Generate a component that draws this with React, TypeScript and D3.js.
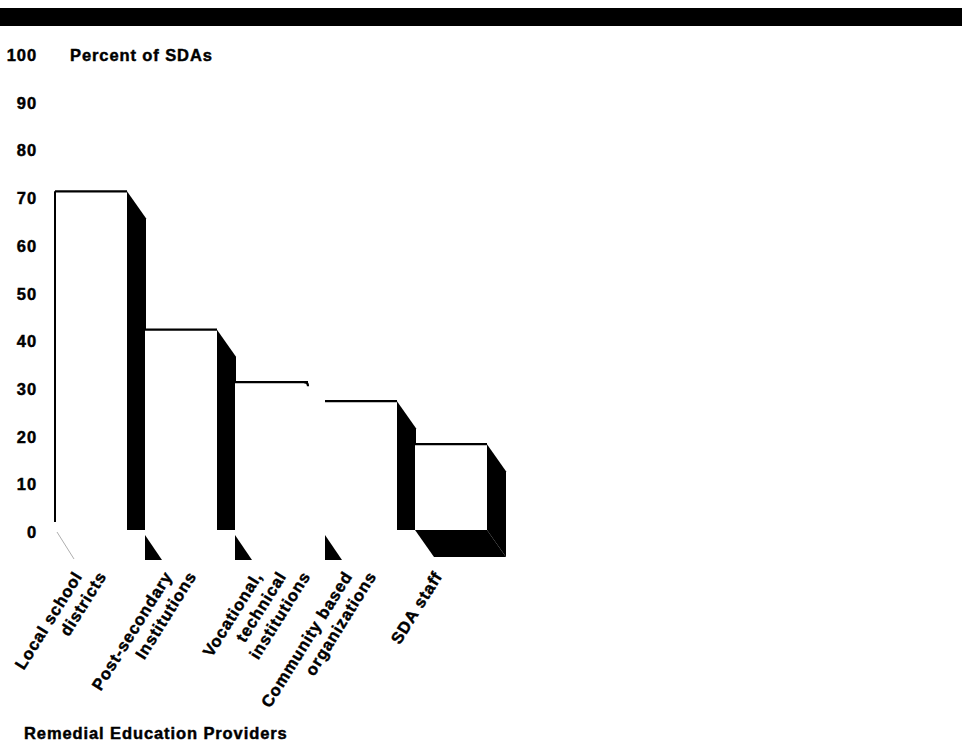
import React from "react";
import * as d3 from "d3";

// Share of SDAs using each remedial education provider
const providers = [
  "Local school districts",
  "Post-secondary institutions",
  "Vocational, technical institutions",
  "Community based organizations",
  "SDA staff",
];
const providerLabelLines = [
  ["Local school", "districts"],
  ["Post-secondary", "Institutions"],
  ["Vocational,", "technical", "institutions"],
  ["Community based", "organizations"],
  ["SDA staff"],
];
const percentOfSDAs = [71, 42, 31, 27, 18];
const yTicks = [0, 10, 20, 30, 40, 50, 60, 70, 80, 90, 100];

const W = 962;
const H = 752;
const FONT = "'Liberation Sans', Arial, Helvetica, sans-serif";

export default function App() {
  const x = d3
    .scaleBand<string>()
    .domain(providers)
    .range([55, 487])
    .paddingInner(0.2)
    .paddingOuter(0);
  const y = d3.scaleLinear().domain([0, 100]).range([530, 53]);
  const base = y(0);
  const bw = x.bandwidth();
  // depth offset of the 3-D extrusion (down and to the right)
  const dx = 19;
  const dy = 27;

  const textStyle = {
    fontFamily: FONT,
    fontWeight: 700,
    fontSize: 16.5,
    letterSpacing: 0.9,
    fill: "#000",
    stroke: "#000",
    strokeWidth: 0.45,
  } as React.CSSProperties;

  return (
    <svg
      width={W}
      height={H}
      viewBox={`0 0 ${W} ${H}`}
      style={{ position: "absolute", left: 0, top: 0, background: "#fff" }}
    >
      <rect x={0} y={0} width={W} height={H} fill="#fff" />
      {/* heavy rule across the top */}
      <rect x={0} y={8} width={W} height={18} fill="#000" />

      {/* y tick labels */}
      {yTicks.map((t) => (
        <text
          key={t}
          x={37}
          y={y(t) + 8}
          textAnchor="end"
          style={textStyle}
        >
          {t}
        </text>
      ))}
      <text x={70} y={y(100) + 8} style={textStyle}>
        Percent of SDAs
      </text>

      {/* bars */}
      {providers.map((p, i) => {
        const x0 = x(p) as number;
        const x1 = x0 + bw;
        const top = y(percentOfSDAs[i]);
        const isLast = i === providers.length - 1;
        const hasSide = i !== 2;
        const sideBottom = isLast ? base + dy : base;
        const side = d3.path();
        side.moveTo(x1, top);
        side.lineTo(x1 + dx, top + dy);
        side.lineTo(x1 + dx, sideBottom);
        side.lineTo(x1, base);
        side.closePath();
        return (
          <g key={p}>
            <rect x={x0} y={top} width={bw} height={base - top} fill="#fff" />
            {hasSide && <path d={side.toString()} fill="#000" />}
            {/* top edge */}
            <line
              x1={x0}
              x2={hasSide ? x1 : x1 + 1}
              y1={top}
              y2={top}
              stroke="#000"
              strokeWidth={2.2}
            />
            {!hasSide && (
              <path
                d={`M${x1 - 3},${top} Q${x1 + 1},${top} ${x1 + 1},${top + 4}`}
                fill="none"
                stroke="#000"
                strokeWidth={2.2}
              />
            )}
            {i === 0 && (
              <>
                <line
                  x1={x0}
                  x2={x0}
                  y1={top}
                  y2={base - 8}
                  stroke="#000"
                  strokeWidth={2}
                />
                <line
                  x1={x0 + 2}
                  x2={x0 + dx}
                  y1={base + 2}
                  y2={base + dy + 2}
                  stroke="#999"
                  strokeWidth={0.8}
                />
              </>
            )}
            {i > 0 && !isLast && (
              <path
                d={`M${x0},${base + 5} L${x0},${base + dy + 3} L${x0 + dx - 2},${base + dy + 3} Z`}
                fill="#000"
              />
            )}
            {isLast && (
              <path
                d={`M${x0},${base} L${x1},${base} L${x1 + dx},${base + dy} L${x0 + dx},${base + dy} Z`}
                fill="#000"
              />
            )}
          </g>
        );
      })}

      {/* rotated category labels */}
      {providers.map((p, i) => {
        const x0 = x(p) as number;
        return providerLabelLines[i].map((line, j) => (
          <text
            key={p + j}
            transform={`translate(${x0 + 28 + 24 * j},${576}) rotate(-58)`}
            textAnchor="end"
            style={textStyle}
          >
            {line}
          </text>
        ));
      })}

      <text x={24} y={739} style={textStyle}>
        Remedial Education Providers
      </text>
    </svg>
  );
}
